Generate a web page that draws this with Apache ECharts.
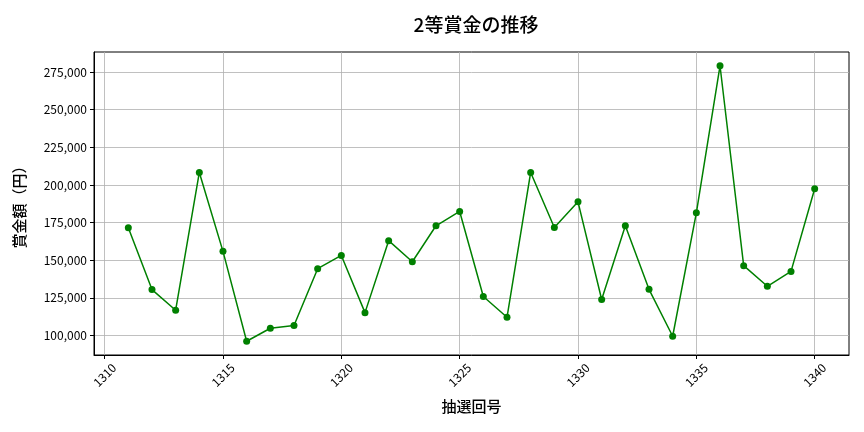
<!DOCTYPE html>
<html>
<head>
<meta charset="utf-8">
<script src="https://cdn.jsdelivr.net/npm/echarts@6/dist/echarts.min.js"></script>
<style>
html,body{margin:0;padding:0;background:#fff;}
#c{width:864px;height:432px;}
</style>
</head>
<body>
<div id="c"></div>
<script>
const rounds = [1311,1312,1313,1314,1315,1316,1317,1318,1319,1320,1321,1322,1323,1324,1325,1326,1327,1328,1329,1330,1331,1332,1333,1334,1335,1336,1337,1338,1339,1340];
const prizes = [171600,130500,116800,208300,155900,96200,104800,106600,144400,153200,115200,163000,149000,172900,182400,125900,112100,208300,171800,188800,123900,172900,130700,99500,181500,279200,146400,132700,142600,197500];
const xTicks = [1310,1315,1320,1325,1330,1335,1340];
const yTicks = [100000,125000,150000,175000,200000,225000,250000,275000];

const font = '"Noto Sans CJK JP","Noto Sans",sans-serif';
const chart = echarts.init(document.getElementById('c'), null, {renderer:'canvas'});
chart.setOption({
  animation:false,
  backgroundColor:'#ffffff',
  textStyle:{fontFamily:font},
  title:{
    text:'2等賞金の推移',
    left:471,
    top:10,
    textAlign:'center',
    textStyle:{fontFamily:font,fontSize:19,fontWeight:500,color:'#000'}
  },
  grid:{left:94,right:15,top:52,bottom:77,show:true,borderColor:'#000',borderWidth:1,backgroundColor:'transparent'},
  xAxis:{
    type:'value',
    min:1309.55,
    max:1341.45,
    name:'抽選回号',
    nameLocation:'middle',
    nameGap:44,
    nameTextStyle:{fontFamily:font,fontSize:15,fontWeight:500,color:'#000'},
    axisLine:{show:true,onZero:false,lineStyle:{color:'#000',width:1}},
    axisTick:{show:true,length:4,lineStyle:{color:'#000'},customValues:xTicks},
    axisLabel:{
      customValues:xTicks,
      rotate:45,
      margin:20,
      align:'center',
      verticalAlign:'middle',
      fontSize:12,
      color:'#000',
      fontFamily:font,
      formatter:v=>String(v)
    },
    splitLine:{show:true,lineStyle:{color:'#b0b0b0',width:0.8}}
  },
  yAxis:{
    type:'value',
    min:87050,
    max:288350,
    name:'賞金額（円）',
    nameLocation:'middle',
    nameGap:67,
    nameRotate:90,
    nameTextStyle:{fontFamily:font,fontSize:15,fontWeight:500,color:'#000'},
    axisLine:{show:true,lineStyle:{color:'#000',width:1}},
    axisTick:{show:true,length:4,lineStyle:{color:'#000'},customValues:yTicks},
    axisLabel:{
      customValues:yTicks,
      margin:7,
      fontSize:12,
      color:'#000',
      fontFamily:font,
      formatter:v=>Number(v).toLocaleString('en-US')
    },
    splitLine:{show:true,lineStyle:{color:'#b0b0b0',width:0.8}}
  },
  series:[{
    type:'line',
    data:rounds.map((r,i)=>[r,prizes[i]]),
    lineStyle:{color:'#008000',width:1.5},
    itemStyle:{color:'#008000'},
    symbol:'circle',
    symbolSize:7,
    showSymbol:true
  }]
});
</script>
</body>
</html>
